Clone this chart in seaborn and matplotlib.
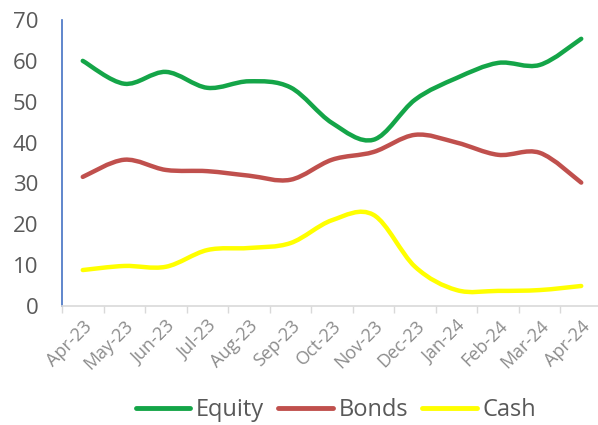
import numpy as np
import pandas as pd
import matplotlib
matplotlib.use('Agg')
import matplotlib.pyplot as plt
from matplotlib.path import Path
from matplotlib.patches import PathPatch
from matplotlib.lines import Line2D
import seaborn as sns

MONTHS = ['Apr-23', 'May-23', 'Jun-23', 'Jul-23', 'Aug-23', 'Sep-23',
          'Oct-23', 'Nov-23', 'Dec-23', 'Jan-24', 'Feb-24', 'Mar-24',
          'Apr-24']
EQUITY = [60, 54.4, 57.3, 53.4, 55, 53.5, 44.8, 40.7, 50.5, 55.8, 59.5, 59,
          65.4]
BONDS = [31.6, 35.8, 33.3, 33, 31.9, 30.9, 35.8, 37.7, 41.9, 40, 37, 37.5,
         30.2]
CASH = [8.8, 9.8, 9.6, 13.7, 14.2, 15.4, 21, 22.3, 9.6, 3.9, 3.7, 3.9, 4.9]

SERIES = [('Equity', EQUITY, '#14a548'),
          ('Bonds', BONDS, '#c0504d'),
          ('Cash', CASH, '#ffff00')]


def smooth_path(xs, ys):
    """Bezier path through the points, like Excel's smoothed line."""
    pts = np.column_stack([xs, ys]).astype(float)
    n = len(pts)
    verts = [pts[0]]
    codes = [Path.MOVETO]
    for i in range(n - 1):
        p0 = pts[i - 1] if i > 0 else pts[i]
        p1 = pts[i]
        p2 = pts[i + 1]
        p3 = pts[i + 2] if i + 2 < n else pts[i + 1]
        c1 = p1 + (p2 - p0) / 6.0
        c2 = p2 - (p3 - p1) / 6.0
        verts += [c1, c2, p2]
        codes += [Path.CURVE4] * 3
    return Path(verts, codes)


def main():
    sns.set_style('white')
    plt.rcParams['font.family'] = ['Open Sans', 'DejaVu Sans']

    fig = plt.figure(figsize=(5.98, 4.25), dpi=100)
    ax = fig.add_axes([62 / 598, 1 - 306 / 425, 540 / 598, 286 / 425])

    df = pd.DataFrame({'month': MONTHS, 'Equity': EQUITY,
                       'Bonds': BONDS, 'Cash': CASH})
    x = np.arange(len(MONTHS))

    handles = []
    for name, vals, color in SERIES:
        patch = PathPatch(smooth_path(x, df[name].values), fill=False,
                          edgecolor=color, lw=3.2, capstyle='round',
                          joinstyle='round')
        ax.add_patch(patch)
        handles.append(Line2D([], [], color=color, lw=3.5))

    ax.set_xlim(-0.5, len(MONTHS) - 0.5)
    ax.set_ylim(0, 70)
    ax.set_yticks(range(0, 71, 10))
    ax.set_xticks(x)
    ax.set_xticklabels(MONTHS, rotation=45, ha='right',
                       rotation_mode='anchor', fontsize=13, color='#8c8c8c')
    ax.tick_params(axis='y', labelsize=16, labelcolor='#595959', length=0,
                   pad=17)
    ax.tick_params(axis='x', which='major', length=0, pad=8)
    # category boundary tick marks
    ax.set_xticks(np.arange(-0.5, len(MONTHS)), minor=True)
    ax.tick_params(axis='x', which='minor', bottom=True, length=5,
                   width=1, color='#d9d9d9', direction='out')

    for side in ['top', 'right']:
        ax.spines[side].set_visible(False)
    ax.spines['left'].set_color('#4472c4')
    ax.spines['left'].set_linewidth(1.2)
    ax.spines['bottom'].set_color('#d9d9d9')
    ax.spines['bottom'].set_linewidth(1.2)

    fig.legend(handles, [s[0] for s in SERIES], loc='center',
               bbox_to_anchor=(336 / 598, 1 - 410 / 425), ncol=3,
               frameon=False, fontsize=17, handlelength=2.3,
               handletextpad=0.25, columnspacing=0.6,
               labelcolor='#595959', borderpad=0)

    fig.savefig('out.png', dpi=100)


if __name__ == '__main__':
    main()
